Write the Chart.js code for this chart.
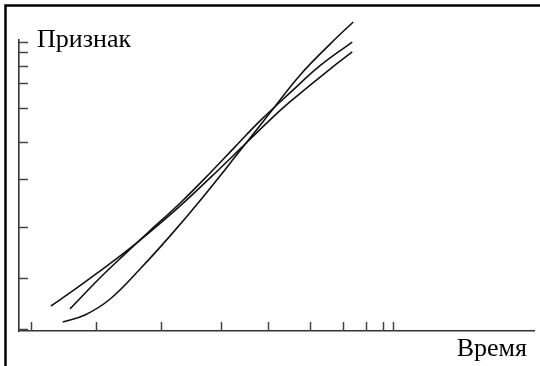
<!DOCTYPE html>
<html>
<head>
<meta charset="utf-8">
<script src="https://cdn.jsdelivr.net/npm/chart.js@4.4.1/dist/chart.umd.min.js"></script>
<style>
  html, body { margin: 0; padding: 0; background: #fff; }
  #wrap { position: relative; width: 540px; height: 366px; }
</style>
</head>
<body>
<div id="wrap"><canvas id="c" width="540" height="366"></canvas></div>
<script>
// Schematic chart: feature vs time, three curves, no numeric labels.
// Units are relative (0..100 on both axes).
const xTitle = "Время";
const yTitle = "Признак";

const xTicks = [2.3, 15.0, 27.6, 39.2, 48.3, 56.5, 62.9, 67.4, 70.7, 72.6];
const yTicks = [0.7, 18.2, 35.7, 52.2, 64.9, 76.6, 85.2, 91.1, 95.9, 99.3];

const timeA = [6.2, 10.9, 15.7, 20.6, 25.4, 31.3, 37.1, 42.9, 48.3, 52.6, 60.4, 64.7];
const featA = [8.6, 14.4, 20.6, 27.1, 34.0, 43.0, 52.6, 62.5, 71.8, 78.7, 90.0, 95.9];

const timeB = [9.9, 15.7, 20.6, 25.4, 31.3, 37.1, 41.9, 46.8, 52.6, 58.4, 64.7];
const featB = [7.6, 18.2, 26.5, 34.4, 44.0, 54.3, 63.2, 72.2, 81.8, 91.1, 99.3];

const timeC = [8.5, 12.8, 17.7, 23.5, 29.3, 35.1, 42.9, 48.7, 54.6, 60.4, 64.9];
const featC = [3.1, 5.5, 11.0, 21.3, 32.6, 44.7, 61.9, 74.9, 88.0, 98.6, 106.2];

const toPoints = (xs, ys) => xs.map((x, i) => ({ x, y: ys[i] }));

const line = (xs, ys) => ({
  data: toPoints(xs, ys),
  borderColor: "#111",
  borderWidth: 1.6,
  pointRadius: 0,
  fill: false,
  tension: 0.4,
  clip: false,
});

// frame, inward tick marks and the two axis captions
const decor = {
  id: "decor",
  beforeDraw(chart) {
    const ctx = chart.ctx;
    ctx.save();
    ctx.strokeStyle = "#000";
    ctx.lineWidth = 2.5;
    ctx.beginPath();
    ctx.moveTo(5.5, 366);
    ctx.lineTo(5.5, 5.5);
    ctx.lineTo(540, 5.5);
    ctx.stroke();
    ctx.restore();
  },
  afterDraw(chart) {
    const { ctx, chartArea: a, scales } = chart;
    ctx.save();
    ctx.strokeStyle = "#444";
    ctx.lineWidth = 1.5;
    ctx.beginPath();
    xTicks.forEach((v) => {
      const px = Math.round(scales.x.getPixelForValue(v)) + 0.5;
      ctx.moveTo(px, a.bottom);
      ctx.lineTo(px, a.bottom - 9);
    });
    yTicks.forEach((v) => {
      const py = Math.round(scales.y.getPixelForValue(v)) + 0.5;
      ctx.moveTo(a.left, py);
      ctx.lineTo(a.left + 9, py);
    });
    ctx.stroke();

    ctx.fillStyle = "#000";
    ctx.font = "26px 'Liberation Serif', serif";
    ctx.textBaseline = "alphabetic";
    ctx.textAlign = "left";
    ctx.fillText(yTitle, a.left + 18, a.top + 7);
    ctx.textAlign = "right";
    ctx.fillText(xTitle, a.right - 7, a.bottom + 25);
    ctx.restore();
  },
};

new Chart(document.getElementById("c"), {
  type: "line",
  data: {
    datasets: [line(timeA, featA), line(timeB, featB), line(timeC, featC)],
  },
  options: {
    responsive: false,
    animation: false,
    layout: { padding: { left: 19, right: 6, top: 40, bottom: 35 } },
    plugins: { legend: { display: false }, tooltip: { enabled: false } },
    scales: {
      x: {
        type: "linear",
        min: 0,
        max: 100,
        ticks: { display: false },
        grid: { display: false, drawTicks: false },
        border: { display: true, color: "#333", width: 1.6 },
      },
      y: {
        type: "linear",
        min: 0,
        max: 100,
        ticks: { display: false },
        grid: { display: false, drawTicks: false },
        border: { display: true, color: "#333", width: 1.6 },
      },
    },
  },
  plugins: [decor],
});
</script>
</body>
</html>
